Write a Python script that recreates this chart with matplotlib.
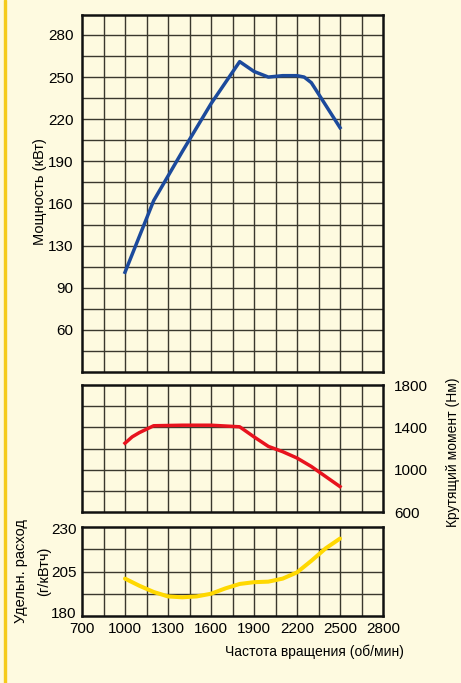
import numpy as np
import matplotlib.pyplot as plt
import matplotlib.transforms as mtransforms
from matplotlib.patches import Rectangle

plt.rcParams['font.family'] = ['Liberation Sans', 'DejaVu Sans']

# rpm values for each curve
rpm_power = [1000, 1200, 1400, 1600, 1800, 1900, 2000, 2100, 2200, 2250, 2300, 2500]
power = [111, 162, 197, 231, 261, 254, 250, 251, 251, 250, 246, 214]

rpm_torque = [1000, 1050, 1100, 1200, 1400, 1600, 1800, 1900, 2000, 2100, 2200, 2300, 2500]
torque = [1250, 1310, 1350, 1415, 1420, 1420, 1405, 1310, 1220, 1170, 1110, 1030, 840]

rpm_fuel = [1000, 1100, 1200, 1300, 1400, 1500, 1600, 1700, 1800, 1900, 2000, 2100, 2200, 2300, 2400, 2500]
fuel = [201, 197, 193.5, 191, 190.5, 191, 192.5, 195.5, 198, 199, 199.3, 201, 204.5, 211, 218, 223.5]

x_ticks = [700, 1000, 1300, 1600, 1900, 2200, 2500, 2800]
power_ticks = [70, 100, 130, 160, 190, 220, 250, 280]
power_labels = ['60', '90', '130', '160', '190', '220', '250', '280']
torque_ticks = [600, 1000, 1400, 1800]
fuel_ticks = [180, 205, 230]

bg = '#FEFAE0'
grid_col = '#3a382e'

fig = plt.figure(figsize=(4.61, 6.83), dpi=100, facecolor=bg)
fig.patches.append(Rectangle((3.5/461, 0), 2.5/461, 1, transform=fig.transFigure,
                             color='#F5CB1C', zorder=0))

W, H = 461.0, 683.0
def box(top, bottom):
    return [82/W, (H-bottom)/H, 301/W, (bottom-top)/H]

ax1 = fig.add_axes(box(15, 372))
ax2 = fig.add_axes(box(385, 512))
ax3 = fig.add_axes(box(527, 616))

def setup(ax, ylo, yhi, ystep):
    ax.set_facecolor(bg)
    ax.set_xlim(700, 2800)
    ax.set_ylim(ylo, yhi)
    for xv in np.arange(850, 2800, 150):
        ax.axvline(xv, color=grid_col, lw=1.0, zorder=1)
    for yv in np.arange(ylo + ystep, yhi - 0.01, ystep):
        ax.axhline(yv, color=grid_col, lw=1.0, zorder=1)
    for s in ax.spines.values():
        s.set_linewidth(1.8)
        s.set_color('#111111')
    ax.tick_params(length=0, labelsize=11)

setup(ax1, 40, 294.2, 15)
ax1.plot(rpm_power, power, color='#1C4A9C', lw=2.5, zorder=3, solid_joinstyle='round')
ax1.set_xticks([])
ax1.set_yticks(power_ticks)
ax1.set_yticklabels(power_labels)
ax1.tick_params(axis='y', pad=6)

setup(ax2, 600, 1800, 200)
ax2.plot(rpm_torque, torque, color='#E8131E', lw=2.5, zorder=3, solid_joinstyle='round')
ax2.set_xticks([])
ax2.yaxis.tick_right()
ax2.set_yticks(torque_ticks)
ax2.tick_params(axis='y', pad=8)

setup(ax3, 180, 230, 12.5)
ax3.plot(rpm_fuel, fuel, color='#FFD800', lw=2.9, zorder=3, solid_capstyle='round')
ax3.set_xticks(x_ticks)
ax3.set_yticks(fuel_ticks)
ax3.tick_params(axis='y', pad=4)
ax3.tick_params(axis='x', pad=4)

# nudge the lowest labels so "180" and "700" do not collide
fig.canvas.draw()
up = mtransforms.ScaledTranslation(0, 3/100, fig.dpi_scale_trans)
ylabs = ax3.get_yticklabels()
ylabs[0].set_transform(ylabs[0].get_transform() + up)
down = mtransforms.ScaledTranslation(0, -2/100, fig.dpi_scale_trans)
ylabs[-1].set_transform(ylabs[-1].get_transform() + down)

fig.text(40/W, 1 - 192/H, 'Мощность (кВт)', rotation=90, ha='center', va='center', fontsize=10.5)
fig.text(453/W, 1 - 452/H, 'Крутящий момент (Нм)', rotation=90, ha='center', va='center', fontsize=10)
fig.text(21/W, 1 - 571/H, 'Удельн. расход', rotation=90, ha='center', va='center', fontsize=10.5)
fig.text(44/W, 1 - 571/H, '(г/кВтч)', rotation=90, ha='center', va='center', fontsize=10.5)
fig.text(314/W, 1 - 652/H, 'Частота вращения (об/мин)', ha='center', va='center', fontsize=10)

fig.savefig('out.png', dpi=100, facecolor=bg)
